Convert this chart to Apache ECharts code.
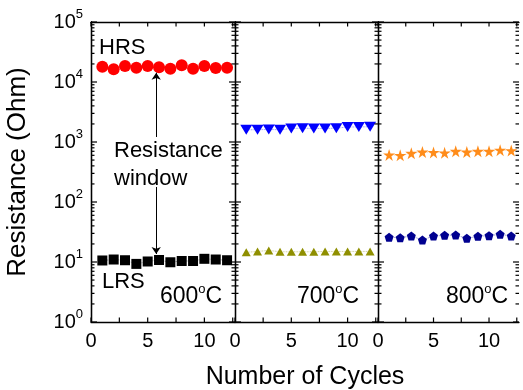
<!DOCTYPE html>
<html>
<head>
<meta charset="utf-8">
<script src="https://cdn.jsdelivr.net/npm/echarts@6/dist/echarts.min.js"></script>
<style>
  html, body { margin: 0; padding: 0; background: #fff; }
  #chart { width: 523px; height: 390px; }
</style>
</head>
<body>
<div id="chart"></div>
<script>
// cycle numbers and resistance values (Ohm)
var cycles = [1, 2, 3, 4, 5, 6, 7, 8, 9, 10, 11, 12];
var hrs600 = [18000, 16300, 18500, 17300, 18500, 17600, 16700, 19000, 16700, 18500, 17100, 17300];
var lrs600 = [10.6, 11.0, 10.7, 9.3, 10.2, 10.8, 9.9, 10.4, 10.4, 11.3, 11.0, 10.7];
var hrs700 = [1600, 1600, 1620, 1600, 1680, 1700, 1680, 1680, 1700, 1780, 1780, 1800];
var lrs700 = [14.5, 15.0, 15.6, 14.8, 14.8, 14.8, 14.8, 15.0, 15.0, 15.0, 15.0, 15.0];
var hrs800 = [610, 600, 650, 680, 670, 660, 700, 680, 700, 700, 730, 720];
var lrs800 = [25.8, 25.4, 27.1, 23.3, 27.1, 27.8, 28.2, 24.8, 26.8, 27.5, 28.9, 27.1];

// ticks
var xLabelTicks = [0, 5, 10];
var xTicks = [0, 2.5, 5, 7.5, 10, 12.5];
var yMajor = [1, 10, 100, 1000, 10000, 100000];
var yMinor = [];
yMajor.slice(0, 5).forEach(function (d) {
  for (var m = 2; m <= 9; m++) yMinor.push(m * d);
});

var FONT = "'Liberation Sans', Arial, sans-serif";
var chart = echarts.init(document.getElementById('chart'));

var grids = [
  { left: 91, top: 22, width: 144, height: 300 },
  { left: 235, top: 22, width: 143, height: 300 },
  { left: 378, top: 22, width: 141, height: 300 }
];

var X_MIN = 0, X_MAX = 12.7, Y_MIN = 1, Y_MAX = 100000;

function lineAxis() {
  return { show: true, lineStyle: { color: '#000', width: 1.3 } };
}

var xAxes = [];
var yAxes = [];
var xBottom = [], yLeft = [];

for (var g = 0; g < 3; g++) {
  ['bottom', 'top'].forEach(function (pos) {
    if (pos === 'bottom') xBottom[g] = xAxes.length;
    xAxes.push({
      type: 'value', gridIndex: g, min: X_MIN, max: X_MAX, position: pos,
      axisLine: lineAxis(), axisTick: { show: false }, splitLine: { show: false },
      axisLabel: pos === 'bottom'
        ? { show: true, customValues: xLabelTicks, fontSize: 20, color: '#000', fontFamily: FONT, margin: 9 }
        : { show: false }
    });
  });
  ['left', 'right'].forEach(function (pos) {
    var labelled = g === 0 && pos === 'left';
    if (pos === 'left') yLeft[g] = yAxes.length;
    yAxes.push({
      type: 'log', logBase: 10, gridIndex: g, min: Y_MIN, max: Y_MAX, position: pos,
      axisLine: lineAxis(), axisTick: { show: false }, splitLine: { show: false },
      axisLabel: {
        show: labelled,
        customValues: yMajor,
        margin: 8,
        formatter: function (v) {
          return '{b|10}{s|' + Math.round(Math.log10(v)) + '}';
        },
        rich: {
          b: { fontSize: 20, color: '#000', fontFamily: FONT },
          s: { fontSize: 13, color: '#000', fontFamily: FONT, padding: [0, 0, 16, 0] }
        }
      },
      name: labelled ? 'Resistance (Ohm)' : '',
      nameLocation: 'middle',
      nameGap: 60,
      nameTextStyle: { fontSize: 26, color: '#000', fontFamily: FONT }
    });
  });
}

function pts(vals) {
  return cycles.map(function (c, i) { return [c, vals[i]]; });
}

var STAR = 'path://M50,0 L61.2,34.5 L97.6,34.5 L68.2,55.9 L79.4,90.5 L50,69.1 L20.6,90.5 L31.8,55.9 L2.4,34.5 L38.8,34.5 Z';
var PENT = 'path://M50,0 L97.6,34.5 L79.4,90.5 L20.6,90.5 L2.4,34.5 Z';

function series(g, vals, color, symbol, size, rotate) {
  return {
    type: 'line', xAxisIndex: xBottom[g], yAxisIndex: yLeft[g],
    data: pts(vals),
    symbol: symbol, symbolSize: size, symbolRotate: rotate || 0,
    showAllSymbol: true,
    itemStyle: { color: color },
    lineStyle: { color: color, width: 0.8, type: 'dotted', opacity: 0.6 },
    silent: true, animation: false, z: 3
  };
}

var s600h = series(0, hrs600, '#ff0000', 'circle', 12);
s600h.markLine = {
  silent: true,
  symbol: ['none', 'arrow'],
  symbolSize: 7,
  label: { show: false },
  lineStyle: { color: '#000', width: 1, type: 'solid' },
  data: [
    [{ coord: [5.75, 1212] }, { coord: [5.75, 14300] }],
    [{ coord: [5.75, 178] }, { coord: [5.75, 13.6] }]
  ]
};

var seriesList = [
  s600h,
  series(0, lrs600, '#000000', 'rect', 10),
  series(1, hrs700, '#0000ff', 'triangle', [12, 10], 180),
  series(1, lrs700, '#8f8f00', 'triangle', [9, 8]),
  series(2, hrs800, '#ff8c1a', STAR, 12),
  series(2, lrs800, '#000090', PENT, 9)
];

function txt(text, x, y, size) {
  return {
    type: 'text', x: x, y: y,
    style: { text: text, fontSize: size, fontFamily: FONT, fill: '#000', align: 'left', verticalAlign: 'middle' }
  };
}
function temp(t, x, y) {
  return {
    type: 'text', x: x, y: y,
    style: {
      text: '{n|' + t + '}{s|o}{n|C}',
      fontFamily: FONT, fill: '#000', align: 'left', verticalAlign: 'bottom',
      rich: {
        n: { fontSize: 23, fontFamily: FONT, fill: '#000' },
        s: { fontSize: 13, fontFamily: FONT, fill: '#000', padding: [0, 0, 15, 0] }
      }
    }
  };
}

var labels = [
  txt('HRS', 99, 48, 22),
  txt('LRS', 102, 282, 22),
  txt('Resistance', 114, 151, 22),
  txt('window', 114, 179, 22),
  temp('600', 160, 311),
  temp('700', 297, 311),
  temp('800', 446, 311),
  {
    type: 'text', x: 305, y: 377,
    style: { text: 'Number of Cycles', fontSize: 25, fontFamily: FONT, fill: '#000', align: 'center', verticalAlign: 'middle' }
  }
];

chart.setOption({
  animation: false,
  grid: grids,
  xAxis: xAxes,
  yAxis: yAxes,
  series: seriesList,
  graphic: { elements: labels }
});

// inward tick marks on all four sides of each panel, placed with the axes' own scales
var tickLines = [];
var msg = '';
function seg(x1, y1, x2, y2) {
  tickLines.push({
    type: 'line', z: 100, silent: true,
    shape: { x1: x1, y1: y1, x2: x2, y2: y2 },
    style: { stroke: '#000', lineWidth: 1.2 }
  });
}
try {
  for (var g = 0; g < 3; g++) {
    var finder = { gridIndex: g };
    var addY = function (v, len) {
      var a = chart.convertToPixel(finder, [X_MIN, v]);
      var b = chart.convertToPixel(finder, [X_MAX, v]);
      seg(a[0], a[1], a[0] + len, a[1]);
      seg(b[0] - len, b[1], b[0], b[1]);
    };
    yMajor.forEach(function (v) { addY(v, 6); });
    yMinor.forEach(function (v) { addY(v, 3.5); });
    xTicks.forEach(function (v) {
      var a = chart.convertToPixel(finder, [v, Y_MIN]);
      var b = chart.convertToPixel(finder, [v, Y_MAX]);
      seg(a[0], a[1], a[0], a[1] - 4.5);
      seg(b[0], b[1], b[0], b[1] + 4.5);
    });
  }
} catch (e) {
  msg = String(e && e.message || e);
}
var extra = tickLines.slice();
if (msg || !tickLines.length || isNaN(tickLines[0].shape.x1)) {
  extra.push({ type: 'text', x: 2, y: 2, z: 200, style: { text: 'ERR ' + msg + ' ' + JSON.stringify(tickLines[0] && tickLines[0].shape), fontSize: 9, fill: '#f00' } });
}
chart.setOption({ graphic: { elements: labels.concat(extra) } });
</script>
</body>
</html>
